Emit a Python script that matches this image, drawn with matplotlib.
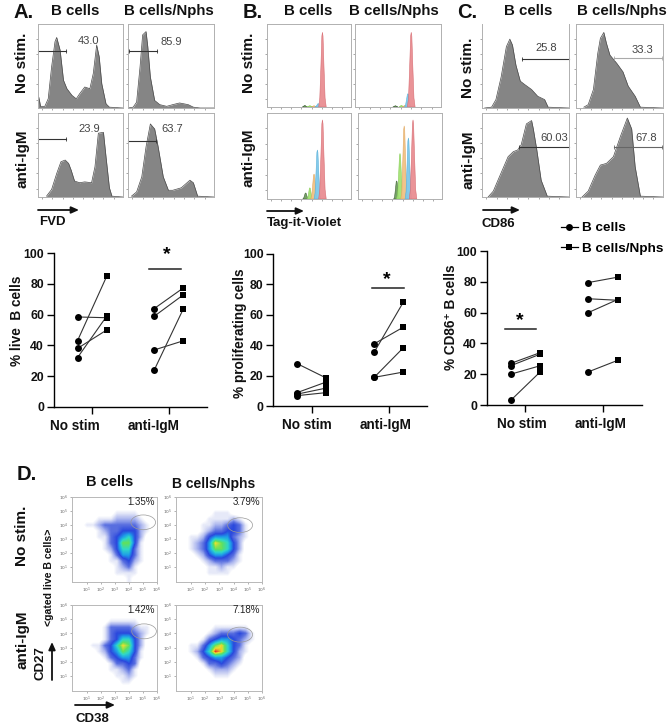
import numpy as np
import matplotlib
matplotlib.use("Agg")
import matplotlib.pyplot as plt
from matplotlib.colors import LinearSegmentedColormap
from matplotlib.lines import Line2D
from matplotlib.patches import Ellipse
from matplotlib.transforms import ScaledTranslation

plt.rcParams['font.family'] = ['Liberation Sans', 'DejaVu Sans']

W, H = 672, 728

# ---------- histogram data (x, y in % of the plot frame) ----------
a_tl_x = [0, 1, 3, 8, 12, 16, 20, 22, 26, 30, 34, 40, 45, 49, 55, 61, 65, 69, 72, 75, 80, 84, 100]
a_tl_y = [1, 13, 2, 2, 11, 49, 79, 84, 69, 33, 23, 15, 11, 17, 25, 23, 41, 75, 61, 29, 5, 1, 0]
a_tr_x = [0, 6, 10, 14, 17, 21, 23, 26, 31, 37, 45, 52, 60, 70, 76, 84, 100]
a_tr_y = [0, 1, 7, 49, 87, 91, 73, 37, 9, 4, 2, 4, 6, 4, 1, 0, 0]
a_bl_x = [10, 16, 22, 27, 32, 36, 39, 43, 49, 55, 63, 67, 71, 77, 80, 84, 87, 100]
a_bl_y = [1, 9, 28, 42, 44, 40, 32, 19, 17, 18, 17, 36, 76, 77, 48, 11, 1, 0]
a_br_x = [4, 10, 16, 21, 26, 31, 35, 41, 47, 52, 62, 72, 76, 81, 100]
a_br_y = [1, 6, 24, 60, 87, 81, 60, 24, 8, 8, 11, 20, 17, 1, 0]

c_tl_x = [3, 11, 16, 22, 28, 32, 35, 39, 44, 49, 57, 64, 72, 76, 100]
c_tl_y = [0, 1, 10, 37, 73, 82, 75, 51, 32, 28, 22, 14, 10, 1, 0]
c_tr_x = [9, 14, 20, 25, 28, 32, 35, 39, 47, 54, 60, 68, 74, 100]
c_tr_y = [1, 4, 22, 65, 83, 90, 77, 63, 53, 43, 26, 14, 1, 0]
c_bl_x = [7, 13, 20, 30, 36, 41, 45, 51, 57, 59, 63, 68, 75, 100]
c_bl_y = [0, 7, 24, 48, 54, 56, 62, 87, 91, 81, 56, 20, 1, 0]
c_br_x = [7, 14, 22, 28, 35, 43, 51, 59, 64, 68, 74, 100]
c_br_y = [0, 7, 26, 38, 40, 48, 72, 94, 81, 36, 1, 0]

# gate: y, x start, x end, label, label x, label y
a_gates = [(68, 0, 33, '43.0', 60, 80), (68, 1, 34, '85.9', 50, 78),
           (68.5, 0, 33, '23.9', 60, 81), (67, 0, 33, '63.7', 51, 81)]
c_gates = [(58, 46, 100, '25.8', 74, 71), (59, 44, 99, '33.3', 76, 69),
           (59, 43, 100, '60.03', 83, 70), (60, 44, 99, '67.8', 81, 70)]

# ---------- Tag-it-Violet generations: centre, half-width, height ----------
gen_colors = ['#e98d92', '#7cc8ea', '#f2c184', '#a4e374', '#6f9d5e']
gen_edges = ['#d66a70', '#58b0d8', '#e0a860', '#86cc55', '#3d5f35']
b_tl_peaks = [(66, 4.5, 90), (61, 4, 4), (56, 3, 1.5), (51, 4, 1.5), (45, 3, 2)]
b_tr_peaks = [(65.4, 4.5, 90), (61.5, 4, 16), (58, 3, 2), (54, 3, 2), (47, 3, 1.5)]
b_bl_peaks = [(66, 4.5, 92), (60, 4, 57), (56, 4, 29), (51, 3.5, 13), (46, 3.5, 7)]
b_br_peaks = [(65.5, 4.5, 92), (60, 4, 71), (55, 4, 85), (50, 4, 53), (46, 3.5, 21)]
peak_offsets = [-1, -0.7, -0.4, -0.15, 0, 0.15, 0.4, 0.7, 1]
peak_profile = [0, 0.12, 0.55, 0.95, 1, 0.95, 0.55, 0.12, 0]

# ---------- paired plots ----------
groups = ['No stim', 'anti-IgM']
live_b_nostim = [58.5, 43, 38, 32]
live_n_nostim = [58, 85, 50, 59]
live_b_igm = [64, 59, 37, 24]
live_n_igm = [77.5, 73, 43, 64]

prolif_b_nostim = [28, 9, 8, 7]
prolif_n_nostim = [18.5, 16, 12, 9]
prolif_b_igm = [41, 35.5, 19, 19]
prolif_n_igm = [52, 68.5, 38.5, 22.5]

cd86_b_nostim = [27, 25.5, 20, 3]
cd86_n_nostim = [34, 33, 25.5, 21.5]
cd86_b_igm = [79.5, 69, 60, 21.5]
cd86_n_igm = [83, 68, 68.5, 29]

# ---------- density levels on a 14 x 14 grid (top row first) ----------
dens_tl = [
 [0,0,0,0,0,0,0,0,0,0,0,0,0,0],
 [0,0,0,0,0,0,0,0,0,0,0,0,0,0],
 [0,0,0,0,0,0,0,1,1,1,1,0,0,0],
 [0,0,0,0,1,1,1,2,2,2,2,1,0,0],
 [0,0,1,1,2,3,3,3,3,3,3,2,1,0],
 [0,0,0,0,1,2,3,3,4,4,4,2,1,0],
 [0,0,0,0,1,1,3,4,5,6,4,2,0,0],
 [0,0,0,0,0,1,3,4,7,7,4,1,0,0],
 [0,0,0,0,0,1,2,4,6,6,3,1,0,0],
 [0,0,0,0,0,0,1,3,5,5,3,1,0,0],
 [0,0,0,0,0,0,1,1,3,4,2,1,0,0],
 [0,0,0,0,0,0,0,1,2,3,1,0,0,0],
 [0,0,0,0,0,0,0,1,1,1,1,0,0,0],
 [0,0,0,0,0,0,0,0,0,1,0,0,0,0]]
dens_tr = [
 [0,0,0,0,0,0,0,0,0,0,0,0,0,0],
 [0,0,0,0,0,0,0,0,0,0,0,0,0,0],
 [0,0,0,0,0,0,1,1,1,0,0,0,0,0],
 [0,0,0,0,0,1,1,1,1,2,1,0,0,0],
 [0,0,0,0,1,1,2,2,3,4,3,1,0,0],
 [0,0,0,0,1,2,3,3,4,4,3,1,0,0],
 [0,0,1,1,2,4,5,5,5,3,2,1,0,0],
 [0,0,1,2,3,5,8,7,6,4,2,0,0,0],
 [0,0,1,2,3,5,7,7,6,4,2,0,0,0],
 [0,0,0,1,2,4,5,5,4,3,1,0,0,0],
 [0,0,0,0,1,2,3,3,3,2,1,0,0,0],
 [0,0,0,0,0,1,1,2,1,1,0,0,0,0],
 [0,0,0,0,0,1,1,1,1,0,0,0,0,0],
 [0,0,0,0,0,0,0,0,0,0,0,0,0,0]]
dens_bl = [
 [0,0,0,0,0,0,0,0,0,0,0,0,0,0],
 [0,0,0,0,0,0,0,0,0,0,0,0,0,0],
 [0,0,0,0,0,0,1,1,1,1,1,0,0,0],
 [0,0,0,0,0,1,3,3,3,3,2,1,1,0],
 [0,0,0,0,0,1,3,4,4,4,3,2,1,0],
 [0,0,0,0,0,1,3,4,6,6,4,2,0,0],
 [0,0,0,1,1,3,4,6,8,7,4,2,0,0],
 [0,0,0,0,1,2,4,5,7,6,4,1,0,0],
 [0,0,0,0,0,1,3,4,5,5,3,1,0,0],
 [0,0,0,0,0,0,1,3,3,4,3,0,0,0],
 [0,0,0,0,0,0,1,1,2,3,1,0,0,0],
 [0,0,0,0,0,0,0,1,1,2,1,0,0,0],
 [0,0,0,0,0,0,0,0,1,1,0,0,0,0],
 [0,0,0,0,0,0,0,0,0,0,0,0,0,0]]
dens_br = [
 [0,0,0,0,0,0,0,0,0,0,0,0,0,0],
 [0,0,0,0,0,0,0,0,0,0,0,0,0,0],
 [0,0,0,0,0,0,0,0,0,0,0,0,0,0],
 [0,0,0,0,0,0,1,1,1,1,1,1,0,0],
 [0,0,0,0,0,1,2,3,3,3,4,3,1,0],
 [0,0,0,0,1,3,4,5,5,4,3,2,1,0],
 [0,0,1,1,3,5,7,8,6,4,3,1,0,0],
 [0,0,1,2,4,6,9,8,6,4,2,1,0,0],
 [0,0,0,1,3,4,5,5,4,3,2,0,0,0],
 [0,0,0,0,1,3,3,4,3,2,1,0,0,0],
 [0,0,0,0,0,1,2,2,2,1,0,0,0,0],
 [0,0,0,0,0,0,1,1,1,0,0,0,0,0],
 [0,0,0,0,0,0,0,0,0,0,0,0,0,0],
 [0,0,0,0,0,0,0,0,0,0,0,0,0,0]]
d_labels = ['1.35%', '3.79%', '1.42%', '7.18%']
# gate ellipse centre (decades) and size
d_gates = [(5.02, 4.2), (4.46, 4.0), (5.08, 4.15), (4.46, 3.92)]
decade_ticks = [1, 2, 3, 4, 5, 6]
decade_labels = ['$10^1$', '$10^2$', '$10^3$', '$10^4$', '$10^5$', '$10^6$']

fig = plt.figure(figsize=(W / 100, H / 100), dpi=100, facecolor='white')


def box(x0, x1, y0, y1):
    """axes from pixel box (y measured from the top)"""
    return fig.add_axes([x0 / W, 1 - y1 / H, (x1 - x0) / W, (y1 - y0) / H])


def flow_frame(ax, hide_top=False):
    ax.set_xlim(0, 100)
    ax.set_ylim(0, 100)
    ax.set_xticks(np.arange(5, 100, 12))
    ax.set_yticks(np.arange(10, 100, 18))
    ax.set_xticklabels([])
    ax.set_yticklabels([])
    ax.tick_params(length=1.5, width=0.4, color='#666666', direction='out', pad=0)
    for s in ax.spines.values():
        s.set_linewidth(0.7)
        s.set_color('#b0b0b0')
    if hide_top:
        ax.spines['top'].set_visible(False)


def hist_panel(pos, xs, ys, gate, gate_color='#333333', hide_top=False):
    ax = box(*pos)
    flow_frame(ax, hide_top)
    ax.fill_between(xs, 0, ys, color='#858585', lw=0)
    ax.plot(xs, ys, color='#4a4a4a', lw=0.5, solid_joinstyle='round')
    gy, gx0, gx1, label, lx, ly = gate
    ax.plot([gx0, gx1], [gy, gy], color=gate_color, lw=0.8, marker='|', ms=3, mew=0.6, clip_on=False)
    ax.text(lx, ly, label, fontsize=8, color='#444444', ha='center', va='center')
    return ax


def prolif_panel(pos, peaks):
    ax = box(*pos)
    flow_frame(ax)
    for i in range(len(peaks) - 1, -1, -1):
        c, hw, h = peaks[i]
        xs = [c + o * hw for o in peak_offsets]
        ys = [h * p for p in peak_profile]
        ax.fill(xs, ys, color=gen_colors[i], ec=gen_edges[i], lw=0.4, alpha=0.95)
    return ax


# Panel A
a_pos = [(38, 123, 24, 108), (128, 214, 24, 108), (38, 123, 113, 197), (128, 214, 113, 197)]
for p, xs, ys, g in zip(a_pos, [a_tl_x, a_tr_x, a_bl_x, a_br_x], [a_tl_y, a_tr_y, a_bl_y, a_br_y], a_gates):
    hist_panel(p, xs, ys, g)

# Panel B
b_pos = [(267, 351, 24, 107), (355, 441, 24, 107), (267, 351, 113, 199), (358, 442, 113, 199)]
for p, pk in zip(b_pos, [b_tl_peaks, b_tr_peaks, b_bl_peaks, b_br_peaks]):
    prolif_panel(p, pk)

# Panel C
c_pos = [(482, 569, 24, 108), (576, 663, 24, 108), (482, 569, 113, 197), (576, 663, 113, 197)]
c_xs = [c_tl_x, c_tr_x, c_bl_x, c_br_x]
c_ys = [c_tl_y, c_tr_y, c_bl_y, c_br_y]
c_gate_colors = ['#333333', '#aaaaaa', '#333333', '#666666']
for i in range(4):
    hist_panel(c_pos[i], c_xs[i], c_ys[i], c_gates[i], c_gate_colors[i], hide_top=(i == 0))


# Paired plots
def paired(pos, b0, n0, b1, n1, ylabel, ylab_px, lab_shift, sig_x, sig_y, star_x, star_y):
    ax = box(*pos)
    x0, x1, y0, y1 = pos
    span = 0.19
    for base, bs, ns in ((0, b0, n0), (1, b1, n1)):
        for a, b in zip(bs, ns):
            ax.plot([base - span, base + span], [a, b], color='#333333', lw=0.8, zorder=2, clip_on=False)
        ax.plot([base - span] * len(bs), bs, 'o', color='black', ms=5, mew=0, zorder=3, clip_on=False)
        ax.plot([base + span] * len(ns), ns, 's', color='black', ms=4.8, mew=0, zorder=3, clip_on=False)
    ax.set_xlim(-0.5, 1.5)
    ax.set_ylim(0, 100)
    ax.set_xticks([0, 1])
    ax.set_xticklabels(groups, fontsize=9.8, fontweight='bold', color='#111111')
    ax.set_yticks([0, 20, 40, 60, 80, 100])
    ax.set_yticklabels(['0', '20', '40', '60', '80', '100'], fontsize=8.8, fontweight='bold', color='#111111')
    ax.tick_params(axis='both', length=5, width=1.0, pad=2)
    ax.tick_params(axis='x', pad=3.5)
    for lab, shift in zip(ax.get_xticklabels(), lab_shift):
        lab.set_transform(lab.get_transform() + ScaledTranslation(shift / 100, 0, fig.dpi_scale_trans))
    for s in ('top', 'right'):
        ax.spines[s].set_visible(False)
    for s in ('left', 'bottom'):
        ax.spines[s].set_linewidth(1.0)
    ax.patch.set_alpha(0)
    ax.set_ylabel(ylabel, fontsize=9.8, fontweight='bold', color='#111111')
    # the label's anchor is its outer edge, so add half its height to centre it on the read position
    ax.yaxis.set_label_coords((ylab_px[0] + 6 - x0) / (x1 - x0), (y1 - ylab_px[1]) / (y1 - y0))
    ax.plot(sig_x, [sig_y, sig_y], color='#222222', lw=1.1, clip_on=False)
    ax.text(star_x, star_y, '*', fontsize=14, fontweight='bold', ha='center', va='center', clip_on=False)
    return ax


paired((53.7, 207.3, 253.3, 406.7), live_b_nostim, live_n_nostim, live_b_igm, live_n_igm,
       '% live  B cells', (18, 321), (-17, -15), [0.74, 1.157], 90, 0.97, 99)
paired((273.3, 427.3, 254, 406.3), prolif_b_nostim, prolif_n_nostim, prolif_b_igm, prolif_n_igm,
       '% proliferating cells', (241, 333), (-5, -3), [0.78, 1.2], 78, 0.98, 83.5)
ax_c = paired((486.7, 641.7, 251, 405), cd86_b_nostim, cd86_n_nostim, cd86_b_igm, cd86_n_igm,
              '% CD86⁺ B cells', (452, 317), (-4, -2), [-0.27, 0.14], 49.5, -0.07, 55)


# Panel D
jet_like = LinearSegmentedColormap.from_list(
    'flow', [(0, '#ffffff'), (0.05, '#ffffff'), (0.11, '#e6e9f8'), (0.22, '#a9b4ee'), (0.33, '#5a70e0'),
             (0.44, '#2a48dd'), (0.55, '#1e9be8'), (0.66, '#2fd8c8'), (0.77, '#5fe060'),
             (0.88, '#e8e030'), (1.0, '#e83a20')])

d_pos = [(72, 157, 497, 582), (176, 262, 497, 582), (72, 157, 605, 691), (176, 262, 605, 691)]
d_data = [dens_tl, dens_tr, dens_bl, dens_br]
for pos, dens, lab, (ex, ey) in zip(d_pos, d_data, d_labels, d_gates):
    ax = box(*pos)
    ext = (-0.04, 5.88, -0.04, 5.88)
    ax.imshow(np.array(dens, dtype=float), extent=ext, cmap=jet_like, vmin=0, vmax=9,
              interpolation='bilinear', aspect='auto', origin='upper')
    ax.add_patch(Ellipse((ex, ey), 1.75, 1.05, fc='none', ec='#999999', lw=0.5))
    ax.set_xlim(ext[0], ext[1])
    ax.set_ylim(ext[2], ext[3])
    ax.set_xticks(decade_ticks)
    ax.set_xticklabels(decade_labels, fontsize=3.2, color='#666666')
    ax.set_yticks(decade_ticks)
    ax.set_yticklabels(decade_labels, fontsize=3.2, color='#666666')
    ax.tick_params(length=1.5, width=0.4, color='#777777', pad=1)
    for s in ax.spines.values():
        s.set_linewidth(0.7)
        s.set_color('#b8b8b8')
    ax.text(0.98, 0.94, lab, transform=ax.transAxes, fontsize=7, ha='right', va='center', color='#222222')

# Overlay in pixel coordinates for the annotation text and arrows
ov = fig.add_axes([0, 0, 1, 1], zorder=10)
ov.set_xlim(0, W)
ov.set_ylim(H, 0)
ov.axis('off')
ov.patch.set_alpha(0)


def t(x, y, s, size=10.8, ha='center', rot=0, weight='bold', color='#111111'):
    ov.text(x, y, s, fontsize=size, fontweight=weight, ha=ha, va='center', rotation=rot, color=color)


def arrow(x0, y0, x1, y1):
    ov.annotate('', xy=(x1, y1), xytext=(x0, y0),
                arrowprops=dict(arrowstyle='-|>,head_length=0.45,head_width=0.2', lw=1.3, color='#111111',
                                shrinkA=0, shrinkB=0))


for letter, x in (('A.', 13), ('B.', 243), ('C.', 457)):
    t(x, 12, letter, size=14.5, ha='left')
for x, s in ((75, 'B cells'), (169, 'B cells/Nphs'), (308, 'B cells'), (394, 'B cells/Nphs'),
             (528, 'B cells'), (622, 'B cells/Nphs')):
    t(x, 11, s)
for x, y1, y2 in ((22, 63, 159), (249, 63, 158), (468, 68, 160)):
    t(x, y1, 'No stim.', size=11, rot=90)
    t(x, y2, 'anti-IgM', size=11, rot=90)

t(39, 222, 'FVD', size=9.5, ha='left')
arrow(38, 210, 79, 210)
t(267, 223, 'Tag-it-Violet', size=9.5, ha='left')
arrow(267, 211, 304, 211)
t(482, 224, 'CD86', size=9.5, ha='left')
arrow(483, 210, 520, 210)

t(17, 474, 'D.', size=14.5, ha='left')
t(110, 482, 'B cells', size=10.5)
t(214, 484, 'B cells/Nphs', size=10)
t(22, 536, 'No stim.', size=11, rot=90)
t(22, 640, 'anti-IgM', size=11, rot=90)
t(49, 577, '<gated live B cells>', size=7.6, rot=90)
t(41, 663, 'CD27', size=9.5, rot=90)
arrow(52, 680, 52, 642)
t(92, 719, 'CD38', size=9.5)
arrow(75, 705, 115, 705)

handles = [Line2D([], [], color='black', lw=0.9, marker='o', ms=5, mew=0),
           Line2D([], [], color='black', lw=0.9, marker='s', ms=4.8, mew=0)]
ov.legend(handles, ['B cells', 'B cells/Nphs'], loc='upper left', bbox_to_anchor=(561 / W, 1 - 222 / H),
          frameon=False, prop={'size': 9.7, 'weight': 'bold'}, handlelength=1.26, handletextpad=0.3,
          labelspacing=0.6, borderaxespad=0, borderpad=0)

fig.savefig('out.png', dpi=100, facecolor='white')
